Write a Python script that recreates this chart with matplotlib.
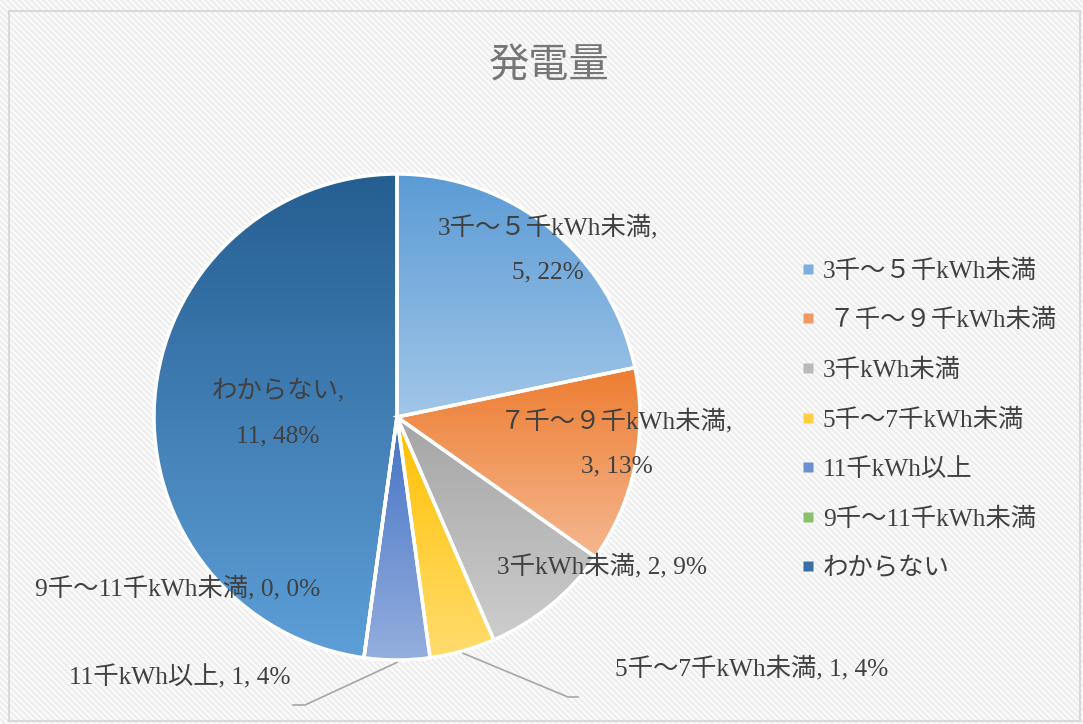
import numpy as np
import matplotlib
matplotlib.use("Agg")
import matplotlib.pyplot as plt
from matplotlib.colors import LinearSegmentedColormap
from matplotlib.lines import Line2D
from matplotlib.patches import Rectangle

# ---------------- data ----------------
title = "発電量"
categories = ["3千～５千kWh未満", " ７千～９千kWh未満", "3千kWh未満", "5千～7千kWh未満",
              "11千kWh以上", "9千～11千kWh未満", "わからない"]
label_names = ["3千～５千kWh未満", "７千～９千kWh未満", "3千kWh未満", "5千～7千kWh未満",
               "11千kWh以上", "9千～11千kWh未満", "わからない"]
values = [5, 3, 2, 1, 1, 0, 11]
percents = ["22%", "13%", "9%", "4%", "4%", "0%", "48%"]

# gradient (top colour, bottom colour) per slice
top_colors = ["#5B9BD5", "#ED7D31", "#A5A5A5", "#FFC000", "#4472C4", "#70AD47", "#255E91"]
bot_colors = ["#A2C6E8", "#F5B78F", "#CDCDCD", "#FFDC6E", "#94AEDE", "#A9D18E", "#5E9FD8"]
legend_colors = ["#7BAFDE", "#F09A62", "#B9B9B9", "#FFCF40", "#6C8FD2", "#8CBF6A", "#3A70A6"]

# ---------------- layout ----------------
W, H = 1083, 724
fig = plt.figure(figsize=(W / 100, H / 100), dpi=100)
fig.patch.set_facecolor("white")

label_font = ["Liberation Serif", "Noto Sans CJK JP"]
txt_color = "#404040"
FS = 18.3

# background hatch
bg = fig.add_axes([0, 0, 1, 1])
bg.set_xlim(0, W)
bg.set_ylim(H, 0)
yy, xx = np.mgrid[0:H, 0:W]
stripes = ((xx - yy) % 6) < 3
bgimg = np.where(stripes, 0.93, 0.978)
bg.imshow(bgimg, cmap="gray", vmin=0, vmax=1, extent=[0, W, H, 0], interpolation="nearest")
bg.add_patch(Rectangle((9, 11), 1071, 710, fill=False, edgecolor="#D9D9D9", linewidth=1.5))
bg.axis("off")

# pie axes
cx, cy, R = 397, 417, 243
ax = fig.add_axes([(cx - R) / W, (H - cy - R) / H, 2 * R / W, 2 * R / H])
ax.set_facecolor("none")
wedges, _ = ax.pie(values, startangle=90, counterclock=False, radius=1,
                   wedgeprops=dict(edgecolor="white", linewidth=2.5, facecolor="none"))
for w, c1, c2 in zip(wedges, top_colors, bot_colors):
    ext = w.get_path().get_extents()
    if ext.height <= 0 or ext.width <= 0:
        continue
    cmap = LinearSegmentedColormap.from_list("g", [c1, c2])
    grad = np.linspace(0, 1, 256).reshape(-1, 1)
    im = ax.imshow(grad, cmap=cmap, aspect="auto", origin="upper",
                   extent=[ext.x0, ext.x1, ext.y0, ext.y1], zorder=0.5)
    im.set_clip_path(w)
    w.set_zorder(1)
ax.set_xlim(-1, 1)
ax.set_ylim(-1, 1)
ax.set_aspect("equal")
ax.axis("off")


def px(x, y):
    return ((x - cx) / R, (cy - y) / R)


# data labels (pixel positions in reference)
label_pos = [(548, 249, True), (617, 443, True), (602, 566, False), (752, 668, False),
             (180, 677, False), (178, 588, False), (278, 413, True)]
for name, v, p, (lx, ly, two) in zip(label_names, values, percents, label_pos):
    s = f"{name},\n{v}, {p}" if two else f"{name}, {v}, {p}"
    ax.text(*px(lx, ly), s, ha="center", va="center", fontsize=FS, color=txt_color,
            family=label_font, linespacing=2.35, clip_on=False, zorder=5)

# leader lines for the small slices
tot = sum(values)
cum = np.cumsum([0] + values)
leaders = {3: [(568, 697), (578, 697)], 4: [(305, 705), (293, 705)]}
for i, pts in leaders.items():
    mid = np.deg2rad(90 - 360 * (cum[i] + values[i] / 2) / tot)
    x0, y0 = 1.01 * np.cos(mid), 1.01 * np.sin(mid)
    xs = [x0] + [px(*p)[0] for p in pts]
    ys = [y0] + [px(*p)[1] for p in pts]
    ax.plot(xs, ys, color="#A6A6A6", linewidth=1.2, clip_on=False, zorder=4)

# title
fig.text(549 / W, 1 - 66 / H, title, ha="center", va="center", fontsize=29,
         color="#767676", family=["Noto Sans CJK JP"])

# legend
handles = [Line2D([], [], marker="s", linestyle="none", markersize=7.5,
                  markerfacecolor=c, markeredgecolor="none") for c in legend_colors]
leg = fig.legend(handles, categories, loc="upper left",
                 bbox_to_anchor=(791 / W, 1 - 249 / H), frameon=False,
                 prop={"family": label_font, "size": FS}, labelcolor=txt_color,
                 handlelength=0.5, handletextpad=0.35, labelspacing=1.04,
                 borderaxespad=0)

fig.savefig("out.png", dpi=100)
